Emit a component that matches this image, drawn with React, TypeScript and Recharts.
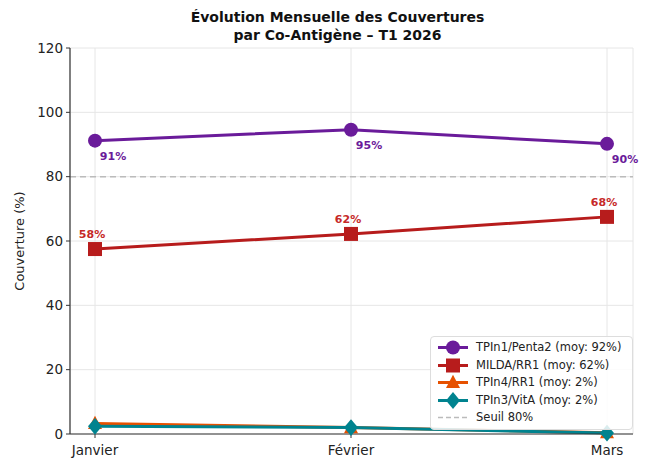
import React from "react";
import {
  LineChart,
  Line,
  XAxis,
  YAxis,
  CartesianGrid,
  ReferenceLine,
  LabelList,
} from "recharts";

const months = ["Janvier", "Février", "Mars"];
const tpin1Penta2 = [91.2, 94.6, 90.2];
const mildaRr1 = [57.5, 62.2, 67.5];
const tpin4Rr1 = [3.3, 2.0, 0.4];
const tpin3VitA = [2.4, 2.0, 0.3];
const yTicks = [0, 20, 40, 60, 80, 100, 120];
const threshold = 80;

const FONT = "'DejaVu Sans', sans-serif";

const avg = (arr: number[]) => Math.round(arr.reduce((s, v) => s + v, 0) / arr.length);

const series = [
  { key: "tpin1", name: "TPIn1/Penta2", color: "#6A1B9A", shape: "circle", values: tpin1Penta2 },
  { key: "milda", name: "MILDA/RR1", color: "#B71C1C", shape: "square", values: mildaRr1 },
  { key: "tpin4", name: "TPIn4/RR1", color: "#E65100", shape: "triangle", values: tpin4Rr1 },
  { key: "tpin3", name: "TPIn3/VitA", color: "#00838F", shape: "diamond", values: tpin3VitA },
];

const chartData = months.map((m, i) => ({
  month: m,
  tpin1: tpin1Penta2[i],
  milda: mildaRr1[i],
  tpin4: tpin4Rr1[i],
  tpin3: tpin3VitA[i],
}));

const Marker = ({ shape, color, cx, cy, size = 7 }: any) => {
  if (cx == null || cy == null) return null;
  if (shape === "circle") return <circle cx={cx} cy={cy} r={size} fill={color} />;
  if (shape === "square")
    return <rect x={cx - size} y={cy - size} width={size * 2} height={size * 2} fill={color} />;
  if (shape === "triangle")
    return (
      <polygon
        points={`${cx},${cy - size * 1.1} ${cx - size},${cy + size * 0.8} ${cx + size},${cy + size * 0.8}`}
        fill={color}
      />
    );
  return (
    <polygon
      points={`${cx},${cy - size * 1.2} ${cx + size},${cy} ${cx},${cy + size * 1.2} ${cx - size},${cy}`}
      fill={color}
    />
  );
};

const makeDot = (shape: string, color: string) => (props: any) => (
  <Marker key={`${shape}-${props.index}`} shape={shape} color={color} cx={props.cx} cy={props.cy} />
);

const BelowRightLabel = ({ x, y, value }: any) => (
  <text x={x + 18} y={y + 19} fill="#6A1B9A" fontSize={11} fontWeight="bold" fontFamily={FONT} textAnchor="middle">
    {Math.round(value)}%
  </text>
);

const AboveLabel = ({ x, y, value }: any) => (
  <text x={x - 3} y={y - 11} fill="#C62828" fontSize={11} fontWeight="bold" fontFamily={FONT} textAnchor="middle">
    {Math.round(value)}%
  </text>
);

const LegendBox = () => (
  <div
    style={{
      position: "absolute",
      left: 430,
      top: 336,
      background: "rgba(255,255,255,0.85)",
      border: "1px solid #ddd",
      borderRadius: 4,
      padding: "2px 10px 2px 5px",
      fontFamily: FONT,
      fontSize: 11.5,
      color: "#222",
      lineHeight: "17.5px",
    }}
  >
    {series.map((s) => (
      <div key={s.key} style={{ display: "flex", alignItems: "center" }}>
        <svg width={34} height={17} style={{ marginRight: 6 }}>
          <line x1={2} x2={32} y1={8.5} y2={8.5} stroke={s.color} strokeWidth={3} />
          <Marker shape={s.shape} color={s.color} cx={17} cy={8.5} size={7} />
        </svg>
        <span>{`${s.name} (moy: ${avg(s.values)}%)`}</span>
      </div>
    ))}
    <div style={{ display: "flex", alignItems: "center" }}>
      <svg width={34} height={17} style={{ marginRight: 6 }}>
        <line x1={2} x2={32} y1={8.5} y2={8.5} stroke="#bbb" strokeWidth={1.5} strokeDasharray="5 3" />
      </svg>
      <span>Seuil {threshold}%</span>
    </div>
  </div>
);

export default function App() {
  return (
    <div style={{ position: "absolute", left: 0, top: 0, width: 653, height: 459, background: "#fff" }}>
      <div
        style={{
          position: "absolute",
          left: 0,
          top: 8,
          width: 675,
          textAlign: "center",
          fontFamily: FONT,
          fontWeight: "bold",
          fontSize: 14,
          lineHeight: "18px",
          color: "#111",
        }}
      >
        Évolution Mensuelle des Couvertures
        <br />
        par Co-Antigène – T1 2026
      </div>
      <LineChart
        width={653}
        height={459}
        data={chartData}
        margin={{ top: 48, right: 20, bottom: 0, left: 0 }}
        style={{ fontFamily: FONT }}
      >
        <CartesianGrid stroke="#e6e6e6" strokeWidth={1} />
        <XAxis
          dataKey="month"
          height={25}
          padding={{ left: 25, right: 26 }}
          tick={{ fill: "#222", fontSize: 13.5, fontFamily: FONT }}
          tickSize={4}
          tickMargin={7}
          stroke="#333"
          tickLine={{ stroke: "#333" }}
          axisLine={{ stroke: "#333", strokeWidth: 1.2 }}
        />
        <YAxis
          width={70}
          domain={[0, 120]}
          ticks={yTicks}
          interval={0}
          tick={{ fill: "#222", fontSize: 13.5, fontFamily: FONT }}
          tickSize={4}
          tickMargin={3}
          tickLine={{ stroke: "#333" }}
          axisLine={{ stroke: "#333", strokeWidth: 1.2 }}
          label={{
            value: "Couverture (%)",
            angle: -90,
            position: "insideLeft",
            offset: 19,
            style: { textAnchor: "middle", fill: "#222", fontSize: 13, fontFamily: FONT },
          }}
        />
        <ReferenceLine y={threshold} stroke="#bbb" strokeWidth={1.5} strokeDasharray="6 4" />
        <Line
          dataKey="tpin4"
          stroke="#E65100"
          strokeWidth={3}
          dot={makeDot("triangle", "#E65100")}
          activeDot={false}
          isAnimationActive={false}
        />
        <Line
          dataKey="tpin3"
          stroke="#00838F"
          strokeWidth={3}
          dot={makeDot("diamond", "#00838F")}
          activeDot={false}
          isAnimationActive={false}
        />
        <Line
          dataKey="milda"
          stroke="#B71C1C"
          strokeWidth={3}
          dot={makeDot("square", "#B71C1C")}
          activeDot={false}
          isAnimationActive={false}
        >
          <LabelList dataKey="milda" content={<AboveLabel />} />
        </Line>
        <Line
          dataKey="tpin1"
          stroke="#6A1B9A"
          strokeWidth={3}
          dot={makeDot("circle", "#6A1B9A")}
          activeDot={false}
          isAnimationActive={false}
        >
          <LabelList dataKey="tpin1" content={<BelowRightLabel />} />
        </Line>
      </LineChart>
      <LegendBox />
    </div>
  );
}
